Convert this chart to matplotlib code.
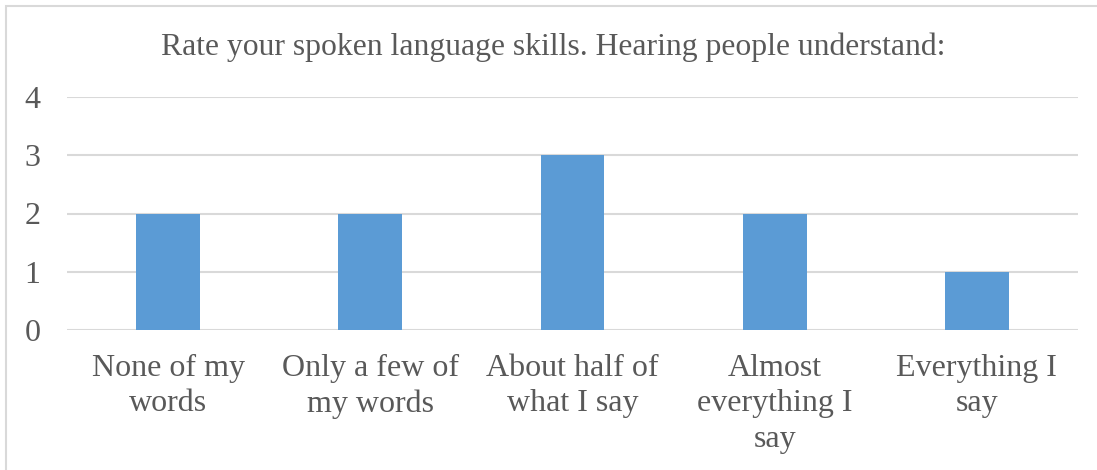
import matplotlib.pyplot as plt
from matplotlib.patches import Rectangle

# data
categories = ['None of my\nwords', 'Only a few of\nmy words', 'About half of\nwhat I say',
              'Almost\neverything I\nsay', 'Everything I\nsay']
counts = [2, 2, 3, 2, 1]
yticks = [0, 1, 2, 3, 4]

plt.rcParams['font.family'] = ['Liberation Serif', 'DejaVu Serif']
text_color = '#595959'

fig = plt.figure(figsize=(10.97, 4.70), dpi=100)
ax = fig.add_axes([67/1097, 1 - 330/470, (1078-67)/1097, (330-97)/470])

ax.bar(range(len(counts)), counts, width=0.315, color='#5b9bd5', zorder=3)
ax.set_xlim(-0.5, len(counts) - 0.5)
ax.set_ylim(0, 4)
ax.set_yticks(yticks)
ax.grid(axis='y', color='#d9d9d9', linewidth=1.5, zorder=0)
ax.set_xticks(range(len(counts)))
ax.set_xticklabels(categories, fontsize=23, color=text_color, linespacing=1.3)
ax.tick_params(axis='y', labelsize=23, labelcolor=text_color, length=0, pad=19)
ax.tick_params(axis='x', length=0, pad=17)
for s in ax.spines.values():
    s.set_visible(False)

fig.text(553/1097, 1 - 47/470, 'Rate your spoken language skills. Hearing people understand:',
         ha='center', va='center', fontsize=22.8, color=text_color)

# chart border
fig.patches.append(Rectangle((6/1097, -0.01), 1.1, 1 - 6/470 + 0.01, transform=fig.transFigure,
                             fill=False, edgecolor='#d9d9d9', linewidth=1.5))

fig.savefig('out.png', dpi=100, facecolor='white')
